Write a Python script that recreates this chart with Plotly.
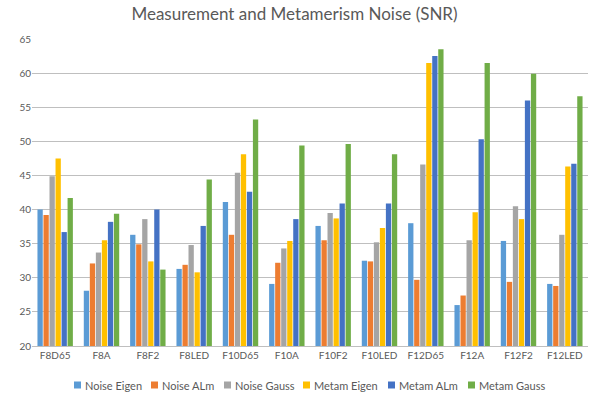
import plotly.graph_objects as go

categories = ["F8D65", "F8A", "F8F2", "F8LED", "F10D65", "F10A", "F10F2", "F10LED",
              "F12D65", "F12A", "F12F2", "F12LED"]

noise_eigen = [40.0, 28.1, 36.3, 31.3, 41.1, 29.1, 37.6, 32.5, 38.0, 26.0, 35.4, 29.1]
noise_alm   = [39.2, 32.1, 34.9, 31.9, 36.3, 32.2, 35.5, 32.4, 29.7, 27.4, 29.4, 28.8]
noise_gauss = [44.9, 33.7, 38.6, 34.8, 45.4, 34.3, 39.5, 35.2, 46.6, 35.5, 40.5, 36.3]
metam_eigen = [47.5, 35.5, 32.4, 30.8, 48.1, 35.4, 38.7, 37.3, 61.5, 39.6, 38.6, 46.3]
metam_alm   = [36.7, 38.2, 40.0, 37.6, 42.6, 38.6, 40.9, 40.9, 62.5, 50.3, 56.0, 46.7]
metam_gauss = [41.7, 39.4, 31.2, 44.4, 53.2, 49.4, 49.6, 48.1, 63.5, 61.5, 59.9, 56.6]

series_names = ["Noise Eigen", "Noise ALm", "Noise Gauss", "Metam Eigen", "Metam ALm", "Metam Gauss"]
series_values = [noise_eigen, noise_alm, noise_gauss, metam_eigen, metam_alm, metam_gauss]
series_colors = ["#5B9BD5", "#ED7D31", "#A5A5A5", "#FFC000", "#4472C4", "#70AD47"]

font_family = "Lato, 'Open Sans', sans-serif"
text_color = "#595959"

W, H = 589, 395
ML, MR, MT, MB = 32, 1, 39, 49
plot_w = W - ML - MR
plot_h = H - MT - MB

fig = go.Figure()
for name, vals, color in zip(series_names, series_values, series_colors):
    fig.add_trace(go.Bar(
        x=categories, y=[v - 20 for v in vals], base=20, name=name,
        marker=dict(color=color, line=dict(width=0)),
        customdata=vals, hovertemplate="%{x}: %{customdata}<extra>" + name + "</extra>",
    ))

# Compact legend row below the axis: small colour square followed by the name
legend_left_px = [74, 151, 224, 303, 388, 468]
legend_mid_px = 385
sq = 7
def px_to_paper_x(px):
    return (px - ML) / plot_w
def px_to_paper_y(py):
    return (H - MB - py) / plot_h

for name, color, lx in zip(series_names, series_colors, legend_left_px):
    fig.add_shape(type="rect", xref="paper", yref="paper",
                  x0=px_to_paper_x(lx), x1=px_to_paper_x(lx + sq),
                  y0=px_to_paper_y(legend_mid_px - sq / 2), y1=px_to_paper_y(legend_mid_px + sq / 2),
                  fillcolor=color, line=dict(width=0))
    fig.add_annotation(text=name, xref="paper", yref="paper",
                       x=px_to_paper_x(lx + sq + 1.5), y=px_to_paper_y(legend_mid_px),
                       xanchor="left", yanchor="middle", showarrow=False,
                       font=dict(family=font_family, size=11, color=text_color))

fig.update_layout(
    width=W, height=H,
    margin=dict(l=ML, r=MR, t=MT, b=MB, autoexpand=False),
    paper_bgcolor="white", plot_bgcolor="white",
    barmode="group", bargap=0.22, bargroupgap=0.12,
    title=dict(text="Measurement and Metamerism Noise (SNR)", x=0.5, xanchor="center",
               y=0.965, yanchor="middle",
               font=dict(family=font_family, size=17, color=text_color)),
    font=dict(family=font_family, size=10, color=text_color),
    xaxis=dict(showgrid=False, showline=True, linecolor="#BFBFBF", linewidth=1,
               ticks="", tickfont=dict(size=10, color=text_color)),
    yaxis=dict(range=[20, 65], tick0=20, dtick=5, showgrid=True, gridcolor="#BFBFBF",
               gridwidth=1.2, zeroline=False, showline=False, ticks="",
               tickfont=dict(size=10, color=text_color)),
    showlegend=False,
)

fig.write_html("out.html")
